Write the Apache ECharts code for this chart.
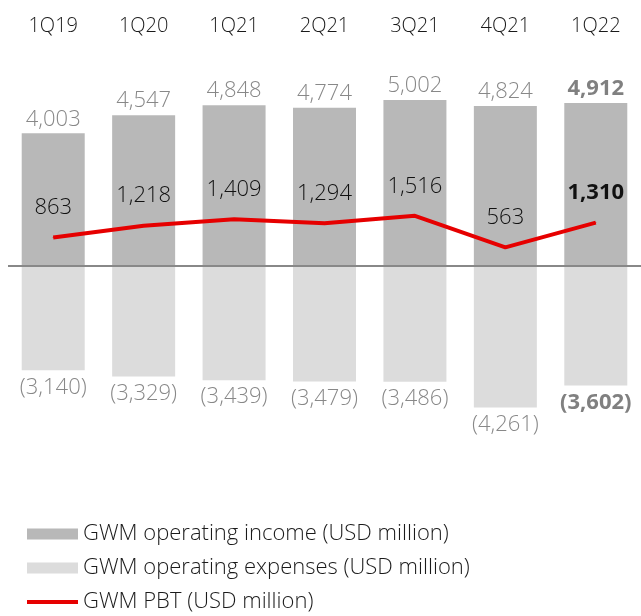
<!DOCTYPE html>
<html>
<head>
<meta charset="utf-8">
<script src="https://cdn.jsdelivr.net/npm/echarts@6/dist/echarts.min.js"></script>
<style>
  html, body { margin: 0; padding: 0; background: #fff; }
  #main { width: 641px; height: 616px; }
</style>
</head>
<body>
<div id="main"></div>
<script>
var quarters = ['1Q19', '1Q20', '1Q21', '2Q21', '3Q21', '4Q21', '1Q22'];
var income = [4003, 4547, 4848, 4774, 5002, 4824, 4912];
var expenses = [-3140, -3329, -3439, -3479, -3486, -4261, -3602];
var pbt = [863, 1218, 1409, 1294, 1516, 563, 1310];

var FONT = 'Open Sans';

function fmt(v) {
    return Math.abs(v).toLocaleString('en-US');
}

// last quarter is shown in bold
function boldLast(arr, color) {
    return arr.map(function (v, i) {
        if (i === arr.length - 1) {
            return { value: v, label: { fontWeight: 'bold', color: color } };
        }
        return v;
    });
}

var myChart = echarts.init(document.getElementById('main'));

var option = {
    animation: false,
    textStyle: { fontFamily: FONT },
    grid: { left: 8, right: -8, top: 67, bottom: 184 },
    legend: {
        orient: 'vertical',
        left: 22,
        top: 518,
        height: 200,
        itemWidth: 51,
        itemHeight: 11,
        itemGap: 12,
        selectedMode: false,
        textStyle: { fontFamily: FONT, fontSize: 22, fontWeight: 300, color: '#1a1a1a', lineHeight: 22 },
        data: [
            { name: 'GWM operating income (USD million)', icon: 'rect' },
            { name: 'GWM operating expenses (USD million)', icon: 'rect' },
            { name: 'GWM PBT (USD million)', icon: 'path://M0,0H51V4H0Z' }
        ]
    },
    xAxis: {
        type: 'category',
        data: quarters,
        position: 'top',
        axisLine: { show: false },
        axisTick: { show: false },
        axisLabel: { margin: 31, fontSize: 20, fontWeight: 300, color: '#1a1a1a', fontFamily: FONT }
    },
    yAxis: {
        type: 'value',
        min: -5000,
        max: 6000,
        show: false,
        splitLine: { show: false }
    },
    series: [{
        name: 'GWM operating income (USD million)',
        type: 'bar',
        data: boldLast(income, '#808080'),
        barWidth: 63,
        barGap: '-100%',
        itemStyle: { color: '#b8b8b8' },
        label: {
            show: true,
            position: 'top',
            distance: 3,
            fontSize: 22,
            fontWeight: 300,
            color: '#888',
            fontFamily: FONT,
            formatter: function (p) { return fmt(p.value); }
        },
        markLine: {
            silent: true,
            symbol: 'none',
            label: { show: false },
            lineStyle: { color: '#888', width: 2, type: 'solid' },
            data: [{ yAxis: 0 }],
            z: 5
        }
    }, {
        name: 'GWM operating expenses (USD million)',
        type: 'bar',
        data: boldLast(expenses, '#808080'),
        barWidth: 63,
        itemStyle: { color: '#dcdcdc' },
        label: {
            show: true,
            position: 'bottom',
            distance: 6,
            fontSize: 22,
            fontWeight: 300,
            color: '#888',
            fontFamily: FONT,
            formatter: function (p) { return '(' + fmt(p.value) + ')'; }
        }
    }, {
        name: 'GWM PBT (USD million)',
        type: 'line',
        data: boldLast(pbt, '#111'),
        symbol: 'circle',
        symbolSize: 1,
        showSymbol: true,
        z: 10,
        lineStyle: { color: '#e60000', width: 4 },
        itemStyle: { color: '#e60000' },
        label: {
            show: true,
            position: 'top',
            distance: 18,
            fontSize: 22,
            fontWeight: 300,
            color: '#111',
            fontFamily: FONT,
            formatter: function (p) { return fmt(p.value); }
        }
    }]
};

myChart.setOption(option);
</script>
</body>
</html>
